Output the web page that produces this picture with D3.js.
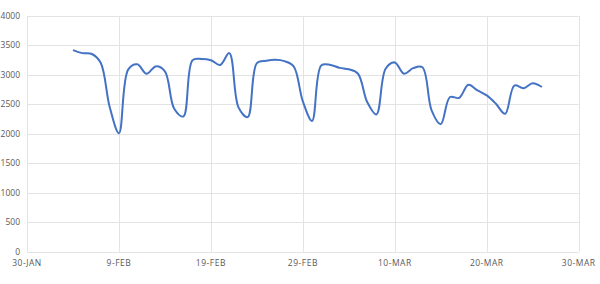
<!DOCTYPE html>
<html>
<head>
<meta charset="utf-8">
<script src="https://cdn.jsdelivr.net/npm/d3@7"></script>
<style>
  body { margin: 0; background: #fff; }
  svg { display: block; }
  text { font-family: "Open Sans", "Liberation Sans", sans-serif; fill: #595959; font-size: 8.5px; }
</style>
</head>
<body>
<svg id="chart" width="600" height="284"></svg>
<script>
const startDate = "2024-02-04";
const values = [
  3420, 3370, 3360, 3210, 2450, 2010, 3090, 3180, 3020, 3145, 3060, 2430, 2295,
  3250, 3270, 3250, 3170, 3370, 2450, 2285, 3200, 3240, 3258, 3235, 3145, 2550,
  2220, 3160, 3170, 3120, 3095, 3020, 2540, 2330, 3105, 3212, 3020, 3115, 3130,
  2400, 2165, 2625, 2610, 2833, 2737, 2652, 2510, 2340, 2820, 2775, 2860, 2795
];
const xTickDates = ["2024-01-30","2024-02-09","2024-02-19","2024-02-29","2024-03-10","2024-03-20","2024-03-30"];
const xTickLabels = ["30-JAN","9-FEB","19-FEB","29-FEB","10-MAR","20-MAR","30-MAR"];
const yTicks = [0, 500, 1000, 1500, 2000, 2500, 3000, 3500, 4000];

const parse = d3.utcParse("%Y-%m-%d");
const t0 = parse(startDate);
const data = values.map((v, i) => ({ date: d3.utcDay.offset(t0, i), value: v }));

const svg = d3.select("#chart");
const margin = { left: 27, right: 21.3, top: 16, bottom: 32.3 };
const W = 600, H = 284;

const x = d3.scaleUtc()
  .domain([parse(xTickDates[0]), parse(xTickDates[xTickDates.length - 1])])
  .range([margin.left, W - margin.right]);
const y = d3.scaleLinear().domain([0, 4000]).range([H - margin.bottom, margin.top]);

// horizontal grid
svg.append("g")
  .selectAll("line").data(yTicks).join("line")
  .attr("x1", margin.left).attr("x2", W - margin.right)
  .attr("y1", d => Math.round(y(d)) + 0.5).attr("y2", d => Math.round(y(d)) + 0.5)
  .attr("stroke", "#e3e3e3").attr("stroke-width", 1);

// vertical grid
svg.append("g")
  .selectAll("line").data(xTickDates).join("line")
  .attr("x1", d => Math.round(x(parse(d))) + 0.5).attr("x2", d => Math.round(x(parse(d))) + 0.5)
  .attr("y1", margin.top).attr("y2", H - margin.bottom)
  .attr("stroke", "#e3e3e3").attr("stroke-width", 1);

// y labels
svg.append("g")
  .selectAll("text").data(yTicks).join("text")
  .attr("x", 20).attr("y", d => y(d))
  .attr("dy", "0.35em").attr("text-anchor", "end")
  .text(d => d);

// x labels
svg.append("g")
  .selectAll("text").data(xTickDates).join("text")
  .attr("x", d => x(parse(d))).attr("y", 263)
  .attr("dy", "0.35em").attr("text-anchor", "middle")
  .attr("letter-spacing", "0.5px")
  .text((d, i) => xTickLabels[i]);

// line
const line = d3.line()
  .x(d => x(d.date)).y(d => y(d.value))
  .curve(d3.curveCatmullRom.alpha(0.5));

svg.append("path")
  .datum(data)
  .attr("fill", "none")
  .attr("stroke", "#4472c4")
  .attr("stroke-width", 2)
  .attr("stroke-linejoin", "round")
  .attr("d", line);
</script>
</body>
</html>
